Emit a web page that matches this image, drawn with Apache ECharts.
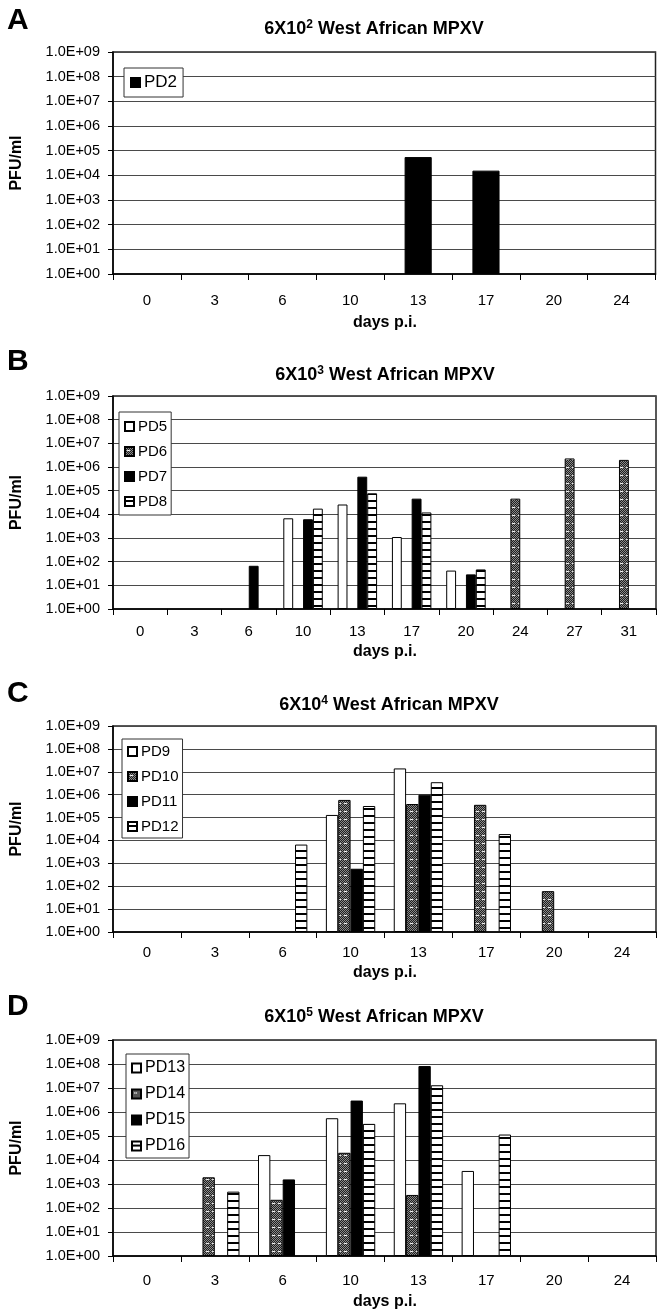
<!DOCTYPE html>
<html>
<head>
<meta charset="utf-8">
<script src="https://cdn.jsdelivr.net/npm/echarts@6/dist/echarts.min.js"></script>
<style>
  html, body { margin: 0; padding: 0; background: #fff; }
  #chart { width: 657px; height: 1316px; }
</style>
</head>
<body>
<div id="chart"></div>
<script>
// Virus titres (PFU/ml) by day post infection, one panel per dose.
const yTickLabels = ['1.0E+00', '1.0E+01', '1.0E+02', '1.0E+03', '1.0E+04',
                     '1.0E+05', '1.0E+06', '1.0E+07', '1.0E+08', '1.0E+09'];

// Panel A: 6x10^2
const daysA = ['0', '3', '6', '10', '13', '17', '20', '24'];
const pd2 = [null, null, null, null, 5.5e4, 1.55e4, null, null];

// Panel B: 6x10^3
const daysB = ['0', '3', '6', '10', '13', '17', '20', '24', '27', '31'];
const pd5 = [null, null, null, 6800, 2.6e4, 1100, 42, null, null, null];
const pd6 = [null, null, null, null, null, null, null, 4.6e4, 2.3e6, 2.0e6];
const pd7 = [null, null, 67, 6200, 3.9e5, 4.6e4, 29, null, null, null];
const pd8 = [null, null, null, 1.74e4, 7.7e4, 1.2e4, 47, null, null, null];

// Panel C: 6x10^4
const daysC = ['0', '3', '6', '10', '13', '17', '20', '24'];
const pd9  = [null, null, null, 1.3e5, 1.4e7, null, null, null];
const pd10 = [null, null, null, 5.9e5, 3.9e5, 3.6e5, 61, null];
const pd11 = [null, null, null, 580, 1.0e6, null, null, null];
const pd12 = [null, null, 6600, 3.2e5, 3.5e6, 1.9e4, null, null];

// Panel D: 6x10^5
const daysD = ['0', '3', '6', '10', '13', '17', '20', '24'];
const pd13 = [null, null, 1.6e4, 5.5e5, 2.3e6, 3500, null, null];
const pd14 = [null, 1.9e3, 220, 2.0e4, 350, null, null, null];
const pd15 = [null, null, 1.55e3, 3.0e6, 8.2e7, null, null, null];
const pd16 = [null, 480, null, 3.2e5, 1.3e7, 1.15e5, null, null];

const FONT = "'Liberation Sans', Arial, Helvetica, sans-serif";

// Fill patterns for the bars
function stripeTile() {
  const c = document.createElement('canvas');
  c.width = 8; c.height = 7;
  const g = c.getContext('2d');
  g.fillStyle = '#fff'; g.fillRect(0, 0, 8, 7);
  g.fillStyle = '#000'; g.fillRect(0, 3, 8, 2);
  return c;
}
function dotTile() {
  const c = document.createElement('canvas');
  c.width = 6; c.height = 8;
  const g = c.getContext('2d');
  for (let y = 0; y < 8; y++) {
    for (let x = 0; x < 6; x++) {
      g.fillStyle = (x + y) % 2 ? '#1f1f1f' : '#8a8a8a';
      g.fillRect(x, y, 1, 1);
    }
  }
  g.fillStyle = '#fff';
  g.fillRect(3, 3, 1, 1);
  g.fillStyle = '#ddd';
  g.fillRect(2, 3, 1, 1); g.fillRect(4, 3, 1, 1);
  return c;
}
const STYLE = {
  white:  { color: '#fff', borderColor: '#000', borderWidth: 1 },
  dots:   { color: { image: dotTile(), repeat: 'repeat' }, borderColor: '#000', borderWidth: 1 },
  black:  { color: '#000', borderColor: '#000', borderWidth: 1 },
  stripe: { color: { image: stripeTile(), repeat: 'repeat' }, borderColor: '#000', borderWidth: 1 }
};

const panels = [
  { letter: 'A', exp: '2', days: daysA, grid: { left: 113, top: 52, width: 542.5, height: 222 },
    letterY: 21, titleX: 374, titleY: 29, labelMargin: 19.5, nameY: 323, barGap: '60%',
    series: [['PD2', pd2, 'black']],
    legend: { left: 124, top: 68, fontSize: 17, lineHeight: 19, itemGap: 8, padding: [5, 6, 5, 6] } },
  { letter: 'B', exp: '3', days: daysB, grid: { left: 113, top: 396, width: 543, height: 213 },
    letterY: 362, titleX: 385, titleY: 375, labelMargin: 15.5, nameY: 652, barGap: '27.3%',
    series: [['PD5', pd5, 'white'], ['PD6', pd6, 'dots'], ['PD7', pd7, 'black'], ['PD8', pd8, 'stripe']],
    legend: { left: 119, top: 412, fontSize: 15, lineHeight: 17, itemGap: 8, padding: [6, 4, 5, 5] } },
  { letter: 'C', exp: '4', days: daysC, grid: { left: 113, top: 726, width: 543, height: 206 },
    letterY: 694, titleX: 389, titleY: 705, labelMargin: 13.5, nameY: 973, barGap: '27.3%',
    series: [['PD9', pd9, 'white'], ['PD10', pd10, 'dots'], ['PD11', pd11, 'black'], ['PD12', pd12, 'stripe']],
    legend: { left: 122, top: 739, fontSize: 15, lineHeight: 17, itemGap: 8, padding: [4, 4, 3, 5] } },
  { letter: 'D', exp: '5', days: daysD, grid: { left: 113, top: 1040, width: 543, height: 216 },
    letterY: 1007, titleX: 374, titleY: 1017, labelMargin: 17.5, nameY: 1302, barGap: '27.3%',
    series: [['PD13', pd13, 'white'], ['PD14', pd14, 'dots'], ['PD15', pd15, 'black'], ['PD16', pd16, 'stripe']],
    legend: { left: 126, top: 1054, fontSize: 16, lineHeight: 18, itemGap: 8, padding: [5, 4, 3, 5] } }
];

const option = {
  animation: false,
  backgroundColor: '#fff',
  grid: [], xAxis: [], yAxis: [], series: [], legend: [], graphic: []
};

panels.forEach((p, i) => {
  option.grid.push(Object.assign({ show: true, borderColor: '#222', borderWidth: 1.5, backgroundColor: 'transparent' }, p.grid));
  option.xAxis.push({
    type: 'category', gridIndex: i, data: p.days, boundaryGap: true,
    axisLine: { lineStyle: { color: '#000', width: 1.5 } },
    axisTick: { show: true, alignWithLabel: false, interval: 0, length: 6, lineStyle: { color: '#000', width: 1 } },
    axisLabel: { interval: 0, margin: p.labelMargin, color: '#000', fontSize: 15, fontFamily: FONT },
    splitLine: { show: false }
  });
  option.yAxis.push({
    type: 'log', gridIndex: i, logBase: 10, min: 1, max: 1e9, interval: 1, splitNumber: 9,
    axisLine: { show: true, lineStyle: { color: '#000', width: 1.5 } },
    axisTick: { show: true, length: 5, lineStyle: { color: '#000', width: 1 } },
    minorTick: { show: false },
    axisLabel: {
      margin: 13, color: '#000', fontSize: 14.5, fontFamily: FONT,
      formatter: v => yTickLabels[Math.round(Math.log10(v))] || ''
    },
    splitLine: { show: true, lineStyle: { color: '#4a4a4a', width: 1.2 } }
  });
  p.series.forEach(([name, data, kind]) => {
    option.series.push({
      name, type: 'bar', xAxisIndex: i, yAxisIndex: i, data,
      barGap: '0%', barCategoryGap: p.barGap,
      itemStyle: STYLE[kind],
      emphasis: { disabled: true }
    });
  });
  option.legend.push({
    data: p.series.map(s => s[0]),
    orient: 'vertical', left: p.legend.left, top: p.legend.top,
    itemWidth: 9, itemHeight: 9, itemGap: p.legend.itemGap, icon: 'rect',
    padding: p.legend.padding, borderColor: '#333', borderWidth: 1, backgroundColor: '#fff',
    selectedMode: false,
    textStyle: { color: '#000', fontSize: p.legend.fontSize, lineHeight: p.legend.lineHeight, fontFamily: FONT, padding: [0, 0, 0, -1] }
  });
  const g = p.grid;
  option.graphic.push(
    { type: 'text', x: 7, y: p.letterY, style: { text: p.letter, font: 'bold 30px ' + FONT, fill: '#000', align: 'left', verticalAlign: 'middle' } },
    { type: 'text', x: p.titleX, y: p.titleY, style: {
        text: '{t|6X10}{s|' + p.exp + '}{t| West African MPXV}',
        rich: {
          t: { fontSize: 18, fontWeight: 'bold', fontFamily: FONT, fill: '#000', lineHeight: 21 },
          s: { fontSize: 12, fontWeight: 'bold', fontFamily: FONT, fill: '#000', lineHeight: 13, verticalAlign: 'top' }
        },
        align: 'center', verticalAlign: 'middle' } },
    { type: 'text', x: 385, y: p.nameY, style: { text: 'days p.i.', font: 'bold 16px ' + FONT, fill: '#000', align: 'center', verticalAlign: 'middle' } },
    { type: 'text', x: 17, y: g.top + g.height / 2, rotation: Math.PI / 2, style: { text: 'PFU/ml', font: 'bold 16px ' + FONT, fill: '#000', align: 'center', verticalAlign: 'middle' } }
  );
});

const chart = echarts.init(document.getElementById('chart'), null, { renderer: 'canvas' });
chart.setOption(option);
</script>
</body>
</html>
